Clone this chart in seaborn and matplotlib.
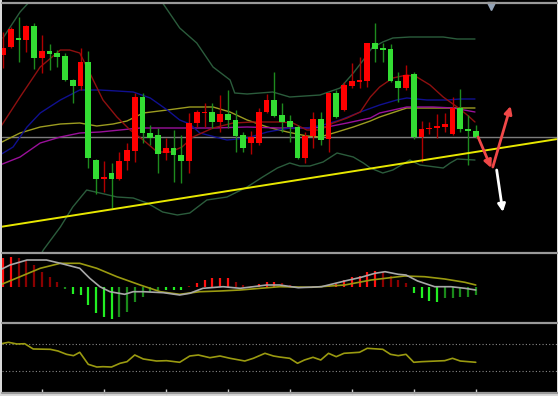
import matplotlib
matplotlib.use("Agg")
import matplotlib.pyplot as plt
import seaborn as sns
import numpy as np
from matplotlib.patches import Rectangle
from matplotlib.lines import Line2D

# ---------------- data (price units, arbitrary) ----------------
opens = [195, 203, 212.3, 210, 224.3, 192.3, 199, 196.7, 194.3, 170,
         164, 187.7, 90, 70.7, 76.7, 70.7, 89, 99.3, 153.3, 117.3,
         115, 96.7, 101.7, 95, 89.3, 126.7, 136.7, 137.7, 128.3, 136,
         130, 115, 106.7, 106.7, 138.3, 150, 135, 129, 123.3, 91.7,
         114, 130.7, 110.7, 157.3, 140, 164.3, 168.3, 169.3, 206.7, 201.3,
         200.7, 169, 162.3, 175.7, 112.7, 120.7, 122.3, 122.7, 116, 142.3,
         121, 119.3]
closes = [202.3, 221, 209.7, 224.3, 192.3, 199, 196, 192.7, 170, 164,
          187.7, 91.7, 71, 73.3, 70.7, 89, 100, 153.3, 117.3, 111.7,
          96, 101.7, 95, 89.3, 126.7, 138.3, 138.3, 128.3, 136, 130,
          114.3, 102.3, 113.3, 138.3, 150, 134.3, 128.3, 123.3, 91.7, 114,
          130.7, 110, 157.3, 133.3, 165, 169.3, 170, 206.7, 200.7, 200.3,
          169, 162.3, 175, 112.7, 121, 122.3, 123.3, 126, 141.7, 120.7,
          119, 112.7]
highs = [218, 223.3, 233.3, 225, 227.3, 215, 205.7, 200, 197.3, 171,
         202.3, 199, 91, 89, 86.7, 98.3, 106.7, 156.7, 156.7, 125,
         121.7, 111.7, 120, 115, 136.7, 140, 147.3, 147.3, 155, 160,
         140, 118.3, 119, 141.7, 156, 178.3, 146.7, 135, 125, 118.3,
         138.3, 138.3, 158, 160, 168.3, 186.7, 193.3, 207.3, 226.7, 206.7,
         205.7, 178.3, 185, 178.3, 129, 128.3, 136, 136.7, 153.3, 161,
         135, 125]
lows = [182, 201.7, 188.3, 198.3, 180.7, 177.3, 180, 183.3, 169, 146.7,
        160, 81.7, 56, 58.3, 42, 70, 80, 88.3, 106.7, 105,
        76.7, 90, 68.3, 66.7, 76.7, 123.3, 123.3, 121.7, 118.3, 121.7,
        98.3, 98.3, 95.7, 105, 136.7, 133.3, 118.3, 108.3, 91, 86.7,
        101.7, 105, 98.3, 131.7, 139, 161.7, 161.7, 163.3, 188.3, 188.3,
        168.3, 148.3, 160, 110.7, 88.3, 116, 111.7, 118.3, 115, 118.3,
        85, 112]

# moving averages (bar position, value)
ma_red_x = [-0.4, 2.2, 4.8, 7.4, 8.6, 9.9, 11.2, 12.9, 14.7, 16.4, 18.1, 19.9, 21.6, 23.1,
            24.5, 27.1, 29.7, 32.3, 35.7, 37.4, 39.2, 40.9, 42.6, 44.4, 46.1, 47.4, 48.6,
            50.3, 52.1, 53.4, 55.1, 56.8, 58.6, 59.9, 60.9]
ma_red_y = [122, 153, 183, 200, 200, 197, 177, 150, 133, 120, 110, 98, 98, 103,
            113, 122, 127, 128, 128, 127, 120, 120, 127, 132, 138, 153, 163,
            172, 175, 173, 165, 153, 143, 135, 128]
ma_blue_x = [-0.4, 1.3, 3.1, 4.8, 7.4, 9.9, 12.5, 14.7, 16.8, 19.0, 21.2, 22.8, 24.1, 25.4,
             28.9, 31.5, 34.1, 37.0, 39.2, 41.3, 43.5, 46.1, 48.6, 50.8, 52.1, 54.7, 57.3,
             59.0, 60.9]
ma_blue_y = [95, 103, 123, 137, 150, 160, 160, 159, 158, 152, 140, 130, 126, 117,
             110, 112, 118, 122, 122, 125, 130, 138, 145, 150, 152, 150, 150,
             151, 151]
ma_olive_x = [-0.4, 2.2, 4.8, 7.4, 9.9, 12.1, 14.2, 16.0, 18.1, 21.2, 24.1, 27.1, 29.3, 31.5,
              34.1, 36.7, 39.2, 40.9, 43.1, 45.2, 47.4, 48.6, 52.1, 54.7, 57.7, 60.9]
ma_olive_y = [107, 117, 123, 126, 127, 124, 126, 129, 137, 140, 143, 143, 138, 130,
              123, 118, 114, 113, 118, 123, 129, 133, 142, 142, 142, 142]
ma_mag_x = [-0.4, 2.2, 4.8, 7.4, 9.9, 12.5, 15.1, 17.7, 20.3, 24.1, 27.1, 31.5, 35.7, 39.2,
            41.8, 44.4, 47.4, 48.6, 52.1, 55.5, 58.1, 60.9]
ma_mag_y = [85, 93, 107, 113, 117, 118, 120, 122, 122, 122, 122, 123, 122, 122,
            123, 127, 132, 137, 143, 143, 142, 138]

# Bollinger bands
bb_up_x = [0, 2.2, 3.5, 5.4, 12.5, 17.7, 20.6, 22.8, 25.0, 27.1, 29.3, 29.9, 31.5, 34.8,
           37.0, 40.9, 43.5, 45.2, 46.5, 47.6, 49.0, 50.3, 52.5, 56.8, 58.6, 60.9]
bb_up_y = [212, 238, 249, 265, 290, 275, 247, 222, 207, 183, 170, 157, 156, 158,
           153, 155, 162, 177, 190, 202, 208, 212, 213, 213, 211, 211]
bb_lo_x = [3.5, 5.2, 7.4, 9.0, 10.8, 12.5, 14.7, 16.8, 18.6, 20.6, 22.5, 24.1, 26.3, 28.9,
           31.5, 33.5, 35.4, 37.0, 38.3, 39.6, 41.3, 43.1, 45.2, 46.5, 47.4, 49.0, 50.3,
           52.5, 53.8, 56.8, 57.7, 58.6, 60.9]
bb_lo_y = [-25, 0, 23, 43, 60, 57, 53, 52, 47, 38, 35, 37, 50, 53,
           63, 73, 82, 87, 84, 84, 88, 97, 93, 87, 82, 77, 80,
           90, 85, 82, 87, 91, 90]

trend_x = [-0.4, 71.4]
trend_y = [23, 110.8]
level_price = 113.3

arrows = [  # (x0, y0, x1, y1, colour)
    (61.3, 113, 63.0, 82, "#f04848"),
    (63.2, 83, 65.5, 144, "#f04848"),
    (63.7, 80, 64.5, 38, "#ffffff"),
]

# MACD panel
macd_hist = [28.5, 29.8, 28.2, 26.5, 21.5, 14.8, 9.2, 4.2, -2.8, -7.8,
             -8.5, -18.5, -26.8, -30.8, -32.5, -30.2, -25.2, -15.2, -10.2, -5.2,
             -3.5, -3.5, -3.5, -3.5, 0.5, 3.2, 6.5, 8.2, 8.2, 8.2,
             4.8, 1.5, 0.8, 2.2, 4.2, 4.2, 3.2, 1.5, -0.6, -0.6,
             0.3, -0.6, 1.5, 2.2, 6.5, 9.2, 10.5, 14.2, 15.5, 14.8,
             10.5, 6.5, 3.2, -6.2, -11.2, -14.5, -15.2, -11.8, -11.2, -10.8,
             -10.2, -8.5]
macd_main_x = [-0.4, 0.9, 3.1, 5.6, 7.4, 9.1, 9.9, 11.2, 12.5, 13.8, 15.7, 16.8, 18.1, 20.7,
               22.8, 24.1, 25.8, 28.4, 30.6, 32.3, 34.0, 35.7, 38.1, 41.1, 44.1, 46.2, 48.0,
               49.3, 51.0, 52.0, 53.5, 55.7, 57.8, 59.6, 61.0]
macd_main_y = [16.5, 21.5, 26.5, 26.5, 23.2, 19.8, 18.2, 8.2, -0.2, -5.2, -7.8, -5.2, -5.2, -6.2,
               -8.5, -6.8, -1.8, -0.2, -1.8, -0.2, 1.5, 1.5, -1.2, -0.2, 5.5, 9.2, 13.2,
               14.8, 12.2, 11.5, 5.5, -0.2, -0.2, -1.8, -3.5]
macd_sig_x = [-0.4, 2.2, 4.8, 7.4, 9.9, 12.1, 14.7, 17.7, 20.3, 22.8, 25.4, 28.0, 30.6, 33.2,
              35.7, 39.8, 44.1, 47.5, 51.8, 54.4, 57.0, 59.6, 61.0]
macd_sig_y = [1.5, 9.8, 18.2, 23.2, 23.2, 18.2, 9.8, 1.5, -5.2, -7.8, -5.2, -4.5, -3.5, -1.8,
              -0.2, -0.8, 1.5, 6.5, 10.5, 9.8, 7.5, 4.2, 1.5]

# RSI panel
rsi_x = [-0.4, 0.7, 1.8, 2.8, 3.9, 6.1, 7.1, 8.2, 9.1, 9.9, 11.0, 12.1, 12.9, 14.0, 15.1,
         16.0, 17.0, 18.1, 19.8, 21.1, 22.8, 24.1, 25.2, 26.7, 28.0, 29.3, 31.2, 32.3, 33.8,
         34.9, 35.7, 37.0, 38.0, 38.9, 40.0, 41.0, 42.0, 43.0, 44.0, 46.0, 47.0, 49.0, 50.0,
         51.0, 52.0, 53.0, 54.0, 57.0, 58.0, 59.0, 61.0]
rsi_y = [70, 72.5, 70, 70.4, 62.6, 62.1, 59.6, 54.7, 52.7, 57.7, 39.9, 35.9, 36.4, 35.9, 41.4,
         43.8, 53.7, 47.8, 44.8, 45.3, 42.9, 52.2, 53.7, 49.7, 52.2, 48.8, 44.8, 48.8, 56.2,
         52.2, 50.7, 48.8, 41.4, 46.3, 50.3, 46.3, 56.2, 51.2, 56.2, 57.7, 63.6, 62.1, 54.7,
         52.7, 54.7, 42.9, 43.8, 45.3, 48.8, 44.8, 42.9]
rsi_levels = [70, 30]
tick_bars = [5, 13, 21, 29, 37, 45, 53, 61]

# ---------------- figure ----------------
sns.set_theme(style="dark")
W, H = 558, 396
fig = plt.figure(figsize=(W / 100, H / 100), dpi=100)
fig.patch.set_facecolor("#d8d8d8")
fig.add_artist(Rectangle((1.5 / W, 3 / H), 555 / W, 1 - 3 / H, transform=fig.transFigure,
                         facecolor="black", edgecolor="none", zorder=0))


def px_axes(top, bottom):
    return fig.add_axes([1.5 / W, 1 - bottom / H, 555 / W, (bottom - top) / H])


ax = px_axes(3, 252)
axm = px_axes(254, 322)
axr = px_axes(324, 392)
xlim = ((1.5 - 3) / 7.75, (556.5 - 3) / 7.75)
for a in (ax, axm, axr):
    a.set_facecolor("black")
    a.set_xlim(*xlim)
    for s in a.spines.values():
        s.set_visible(False)
    a.set_xticks([])
    a.set_yticks([])
    a.grid(False)

ax.set_ylim(-2, 247)
axm.set_ylim(-35.5, 32.5)
axr.set_ylim(-1.1, 99.6)

# separators
for yy in (2.5, 253, 323, 392.5):
    fig.add_artist(Line2D([1.5 / W, 1], [1 - yy / H, 1 - yy / H], transform=fig.transFigure,
                          color="#9a9a9a", lw=1.6, zorder=5))

# main panel lines
def line(a, x, y, color, lw=1.0, z=2):
    sns.lineplot(x=x, y=y, ax=a, color=color, linewidth=lw, estimator=None, sort=False,
                 zorder=z, legend=False)

line(ax, bb_up_x, bb_up_y, "#2b5c3c")
line(ax, bb_lo_x, bb_lo_y, "#2b5c3c")
line(ax, ma_olive_x, ma_olive_y, "#9c9c20")
line(ax, ma_mag_x, ma_mag_y, "#9a109a")
line(ax, ma_blue_x, ma_blue_y, "#101090")
line(ax, ma_red_x, ma_red_y, "#8e1010")
ax.axhline(level_price, color="#7c7c7c", lw=1.0, zorder=1)
line(ax, trend_x, trend_y, "#e8e800", lw=1.4, z=6)

# candles
idx = np.arange(len(opens))
for i in idx:
    o, c, h, l = opens[i], closes[i], highs[i], lows[i]
    up = c >= o
    body = "#ff0000" if up else "#33dd33"
    wick = "#b00000" if up else "#1e8a1e"
    ax.vlines(i, l, h, color=wick, lw=1.0, zorder=3)
    lo_b = min(o, c)
    hgt = max(abs(c - o), 1.3)
    ax.add_patch(Rectangle((i - 0.36, lo_b), 0.72, hgt, facecolor=body, edgecolor="none", zorder=4))

for x0, y0, x1, y1, col in arrows:
    ax.annotate("", xy=(x1, y1), xytext=(x0, y0),
                arrowprops=dict(arrowstyle="-|>", color=col, lw=2.0, mutation_scale=11,
                                shrinkA=0, shrinkB=0), zorder=7)
ax.plot([63.0], [244], marker="v", markersize=6, color="#94a4b8", clip_on=False, zorder=8)

# MACD
hist = np.array(macd_hist)
cols = []
for i, v in enumerate(hist):
    prev = hist[i - 1] if i > 0 else v
    grow = abs(v) >= abs(prev)
    if v >= 0:
        cols.append("#ff1010" if grow else "#8a0000")
    else:
        cols.append("#22ee22" if grow else "#1a8a1a")
axm.vlines(idx, 0, hist, colors=cols, lw=1.6, zorder=2)
line(axm, macd_sig_x, macd_sig_y, "#9a9a10", lw=1.2, z=3)
line(axm, macd_main_x, macd_main_y, "#a8a8a8", lw=1.2, z=3)

# RSI
for lv in rsi_levels:
    axr.axhline(lv, color="#8a8a8a", lw=0.8, ls=(0, (1, 2)), zorder=1)
line(axr, rsi_x, rsi_y, "#9a9a10", lw=1.2, z=3)
axr.set_xticks(tick_bars)
axr.set_xticklabels([])
axr.tick_params(axis="x", direction="inout", length=4, width=1, color="#cfcfcf", bottom=True)

for a in (ax, axm, axr):
    a.set_xlabel("")
    a.set_ylabel("")

fig.savefig("out.png", dpi=100, facecolor=fig.get_facecolor())
